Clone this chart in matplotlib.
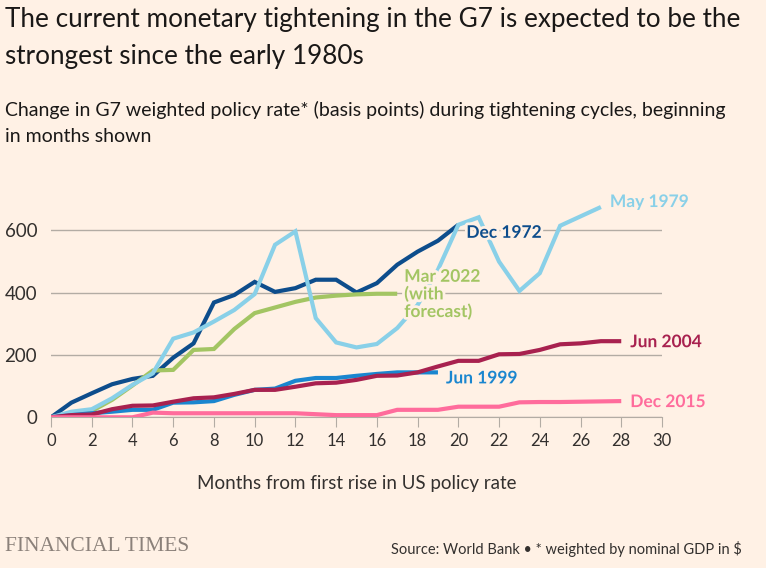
import matplotlib
matplotlib.use('Agg')
import matplotlib.pyplot as plt
import matplotlib.patheffects as pe
import numpy as np

# values (basis points, by month from first US rise)
dec1972 = [0, 47, 77, 106, 123, 133, 191, 237, 368, 392, 434, 402, 414, 441, 441,
           400, 430, 489, 531, 566, 617]
may1979 = [0, 18, 26, 61, 104, 141, 252, 272, 307, 344, 395, 553, 596, 318, 240,
           224, 235, 286, 360, 473, 617, 641, 499, 405, 462, 614, 644, 674]
mar2022 = [0, 13, 20, 56, 102, 150, 152, 216, 219, 283, 334, 352, 370, 384, 390,
           394, 396, 396]
jun1999 = [0, 7, 13, 18, 24, 24, 47, 48, 52, 72, 88, 92, 117, 126, 126, 133, 139,
           144, 144, 144]
jun2004 = [0, 7, 9, 26, 37, 38, 50, 61, 64, 75, 88, 88, 98, 109, 111, 120, 133,
           134, 144, 163, 181, 181, 202, 203, 216, 234, 237, 244, 244]
dec2015 = [0, 0, 0, 0, 0, 15, 13, 13, 13, 13, 13, 13, 13, 10, 7, 7, 7, 24, 24, 24,
           34, 34, 34, 48, 49, 49, 50, 51, 52]

series = [
    ("Dec 1972", dec1972, "#0d4d8c"),
    ("Mar 2022\n(with\nforecast)", mar2022, "#a3c563"),
    ("May 1979", may1979, "#89d0e8"),
    ("Jun 1999", jun1999, "#1a86cf"),
    ("Jun 2004", jun2004, "#a8214f"),
    ("Dec 2015", dec2015, "#ff6c9c"),
]
# where each end label sits relative to the last point (pixels)
label_offsets = {
    "Dec 1972": (8, -8, "center"),
    "May 1979": (9, 5, "center"),
    "Mar 2022\n(with\nforecast)": (7, 25, "top"),
    "Jun 1999": (8, -6, "center"),
    "Jun 2004": (9, -1, "center"),
    "Dec 2015": (9, -1, "center"),
}

bg = "#fff1e5"
plt.rcParams['font.family'] = ['Lato', 'DejaVu Sans']

fig = plt.figure(figsize=(7.66, 5.68), dpi=100, facecolor=bg)
ax = fig.add_axes([0.0666, 0.2653, 0.7976, 0.3845], facecolor=bg)

for name, vals, col in series:
    months = np.arange(len(vals))
    ax.plot(months, vals, color=col, lw=3, solid_joinstyle='miter', solid_capstyle='butt', zorder=3)

for name, vals, col in series:
    dx, dy, va = label_offsets[name]
    ax.annotate(name, xy=(len(vals) - 1, vals[-1]), xytext=(dx, dy), textcoords='offset pixels',
                color=col, fontsize=12.5, fontweight='bold', va=va, ha='left',
                linespacing=1.1, zorder=5, annotation_clip=False,
                path_effects=[pe.withStroke(linewidth=4, foreground=bg)])

ax.set_xlim(0, 30)
ax.set_ylim(0, 700)
ax.set_xticks(range(0, 31, 2))
ax.set_yticks([0, 200, 400, 600])
ax.grid(axis='y', color='#b3aca4', lw=1)
ax.set_axisbelow(True)
for s in ['top', 'right', 'left']:
    ax.spines[s].set_visible(False)
ax.spines['bottom'].set_color('#b3aca4')
ax.tick_params(axis='y', length=0, pad=10, labelsize=13.5, labelcolor='#33302e')
ax.tick_params(axis='x', length=7, color='#b3aca4', labelsize=12, labelcolor='#33302e', pad=4)
ax.set_xlabel("Months from first rise in US policy rate", fontsize=13.5, color='#33302e', labelpad=19)

fig.text(0.006, 0.988, "The current monetary tightening in the G7 is expected to be the\nstrongest since the early 1980s",
         fontsize=18.8, color='#1a1817', va='top', ha='left', linespacing=1.62)
fig.text(0.006, 0.823, "Change in G7 weighted policy rate* (basis points) during tightening cycles, beginning\nin months shown",
         fontsize=14, color='#1a1817', va='top', ha='left', linespacing=1.65)
fig.text(0.006, 0.038, "FINANCIAL TIMES", family='Liberation Serif', fontsize=15.5, color='#8b817a', va='center', ha='left')
fig.text(0.968, 0.034, "Source: World Bank \u2022 * weighted by nominal GDP in $", fontsize=10.5,
         color='#33302e', va='center', ha='right')

fig.savefig("out.png", dpi=100, facecolor=bg)
